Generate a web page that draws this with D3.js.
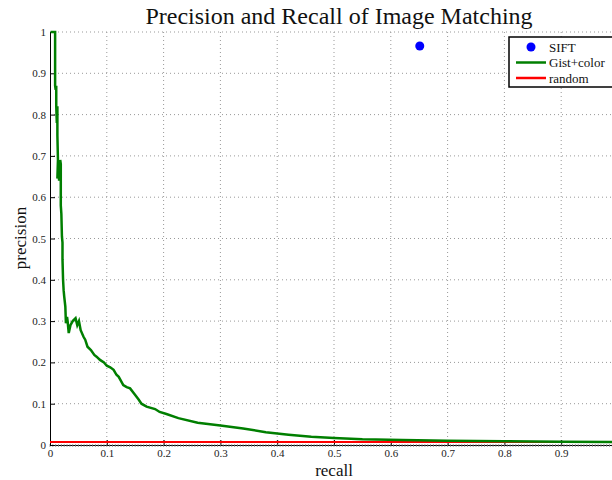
<!DOCTYPE html>
<html>
<head>
<meta charset="utf-8">
<script src="https://cdn.jsdelivr.net/npm/d3@7"></script>
<style>
  body { margin: 0; background: #fff; }
  svg { display: block; }
  .tick text { font-family: "Liberation Serif", "Times New Roman", serif; }
</style>
</head>
<body>
<div class="prChart"></div>
<script>
var width = 612,
    height = 480;

var margin = {top: 32, left: 50, bottom: 35};
var plotRight = 618;   // the figure is cropped: recall = 1 sits past the right edge

// recall / precision
var gistRecall = [0.001, 0.009, 0.009, 0.010, 0.011, 0.011, 0.012, 0.013, 0.013, 0.014,
  0.013, 0.015, 0.016, 0.018, 0.019, 0.019, 0.020, 0.021, 0.022, 0.022,
  0.023, 0.024, 0.025, 0.027, 0.028, 0.030, 0.031, 0.033, 0.036, 0.040,
  0.045, 0.048, 0.051, 0.054, 0.059, 0.062, 0.066, 0.072, 0.078, 0.082,
  0.088, 0.095, 0.100, 0.106, 0.112, 0.117, 0.121, 0.129, 0.135, 0.141,
  0.150, 0.156, 0.161, 0.170, 0.185, 0.193, 0.205, 0.226, 0.260, 0.300,
  0.340, 0.380, 0.420, 0.460, 0.500, 0.550, 0.620, 0.700, 0.800, 0.900, 1.000];
var gistPrecision = [1.0, 1.0, 0.87, 0.86, 0.87, 0.82, 0.78, 0.82, 0.75, 0.69,
  0.645, 0.69, 0.64, 0.69, 0.68, 0.58, 0.56, 0.505, 0.49, 0.45,
  0.40, 0.375, 0.36, 0.335, 0.295, 0.31, 0.30, 0.271, 0.29, 0.30,
  0.307, 0.29, 0.30, 0.278, 0.262, 0.255, 0.238, 0.23, 0.218, 0.214,
  0.206, 0.200, 0.192, 0.188, 0.182, 0.170, 0.165, 0.145, 0.140, 0.137,
  0.121, 0.110, 0.100, 0.093, 0.087, 0.080, 0.075, 0.065, 0.054, 0.047,
  0.040, 0.031, 0.025, 0.020, 0.017, 0.014, 0.012, 0.010, 0.009, 0.008, 0.007];

var siftRecall = [0.651];
var siftPrecision = [0.966];

var randomRecall = [0, 1];
var randomPrecision = [0.007, 0.007];

// the 1 on the recall axis falls outside the cropped figure
var xTicks = [0, 0.1, 0.2, 0.3, 0.4, 0.5, 0.6, 0.7, 0.8, 0.9];
var yTicks = [0, 0.1, 0.2, 0.3, 0.4, 0.5, 0.6, 0.7, 0.8, 0.9, 1];

var legendNames = ["SIFT", "Gist+color", "random"];
var colors = ["#0000ff", "#007f00", "#ff0000"];

var x = d3.scaleLinear().domain([0, 1]).range([margin.left, plotRight]);
var y = d3.scaleLinear().domain([0, 1]).range([height - margin.bottom, margin.top]);

var svg = d3.select(".prChart")
  .append("svg")
  .attr("width", width)
  .attr("height", height)
  .style("font-family", "'Liberation Serif', 'Times New Roman', serif");

// dotted grid
svg.append("g")
  .selectAll("line")
  .data(xTicks.slice(1))
  .enter()
  .append("line")
  .attr("x1", function(d) { return x(d); })
  .attr("x2", function(d) { return x(d); })
  .attr("y1", y(0))
  .attr("y2", y(1))
  .attr("stroke", "#999")
  .attr("stroke-width", 1)
  .attr("stroke-dasharray", "1,3");

svg.append("g")
  .selectAll("line")
  .data(yTicks.slice(1))
  .enter()
  .append("line")
  .attr("x1", x(0))
  .attr("x2", x(1))
  .attr("y1", function(d) { return y(d); })
  .attr("y2", function(d) { return y(d); })
  .attr("stroke", "#999")
  .attr("stroke-width", 1)
  .attr("stroke-dasharray", "1,3");

// bottom axis, ticks point inwards
var xAxis = d3.axisBottom(x)
  .tickValues(xTicks)
  .tickSize(-5)
  .tickPadding(4)
  .tickFormat(function(d) { return d === 0 ? "0" : d3.format(".1f")(d); });

svg.append("g")
  .attr("transform", "translate(0," + y(0) + ")")
  .call(xAxis)
  .call(function(g) {
    g.attr("font-family", null);
    g.select(".domain").attr("stroke", "#000");
    g.selectAll("text").attr("font-size", "11px").attr("fill", "#222");
  });

// fine ruler-like ticks along the bottom
svg.append("g")
  .selectAll("line")
  .data(d3.range(0, 1.0001, 0.005))
  .enter()
  .append("line")
  .attr("x1", function(d) { return x(d); })
  .attr("x2", function(d) { return x(d); })
  .attr("y1", y(0) - 1)
  .attr("y2", y(0) + 2)
  .attr("stroke", "#888")
  .attr("stroke-width", 0.8);

var yAxis = d3.axisLeft(y)
  .tickValues(yTicks)
  .tickSize(-5)
  .tickPadding(4)
  .tickFormat(function(d) { return (d === 0 || d === 1) ? String(d) : d3.format(".1f")(d); });

svg.append("g")
  .attr("transform", "translate(" + x(0) + ",0)")
  .call(yAxis)
  .call(function(g) {
    g.attr("font-family", null);
    g.select(".domain").attr("stroke", "#000");
    g.selectAll("text").attr("font-size", "11px").attr("fill", "#222");
  });

// random baseline
var line = d3.line()
  .x(function(d) { return x(d[0]); })
  .y(function(d) { return y(d[1]); });

svg.append("path")
  .datum(d3.zip(randomRecall, randomPrecision))
  .attr("fill", "none")
  .attr("stroke", colors[2])
  .attr("stroke-width", 2)
  .attr("d", line);

// Gist+color curve
svg.append("path")
  .datum(d3.zip(gistRecall, gistPrecision))
  .attr("fill", "none")
  .attr("stroke", colors[1])
  .attr("stroke-width", 2.5)
  .attr("stroke-linejoin", "miter")
  .attr("d", line);

// SIFT point
svg.selectAll("circle.sift")
  .data(d3.zip(siftRecall, siftPrecision))
  .enter()
  .append("circle")
  .attr("class", "sift")
  .attr("cx", function(d) { return x(d[0]); })
  .attr("cy", function(d) { return y(d[1]); })
  .attr("r", 4.5)
  .attr("fill", colors[0]);

// title and axis labels
svg.append("text")
  .attr("x", 339)
  .attr("y", 24)
  .attr("text-anchor", "middle")
  .attr("font-size", "24px")
  .attr("fill", "#111")
  .text("Precision and Recall of Image Matching");

svg.append("text")
  .attr("x", 334)
  .attr("y", 476)
  .attr("text-anchor", "middle")
  .attr("font-size", "17px")
  .attr("fill", "#111")
  .text("recall");

svg.append("text")
  .attr("transform", "translate(26,238) rotate(-90)")
  .attr("text-anchor", "middle")
  .attr("font-size", "17px")
  .attr("fill", "#111")
  .text("precision");

// legend
var legendBox = svg.append("g").attr("transform", "translate(509,37)");

legendBox.append("rect")
  .attr("width", 108)
  .attr("height", 50)
  .attr("fill", "#fff")
  .attr("stroke", "#000")
  .attr("stroke-width", 1.5);

var legend = legendBox.selectAll(".legend")
  .data(legendNames)
  .enter()
  .append("g")
  .attr("class", "legend")
  .attr("transform", function(d, i) { return "translate(0," + (10 + i * 15.5) + ")"; });

legend.each(function(d, i) {
  var g = d3.select(this);
  if (i === 0) {
    g.append("circle").attr("cx", 22).attr("cy", 0).attr("r", 4.5).attr("fill", colors[i]);
  } else {
    g.append("line").attr("x1", 7).attr("x2", 37).attr("y1", 0).attr("y2", 0)
      .attr("stroke", colors[i]).attr("stroke-width", 2.5);
  }
});

legend.append("text")
  .attr("x", 40)
  .attr("y", 4.5)
  .attr("font-size", "13px")
  .attr("fill", "#111")
  .text(function(d) { return d; });
</script>
</body>
</html>
